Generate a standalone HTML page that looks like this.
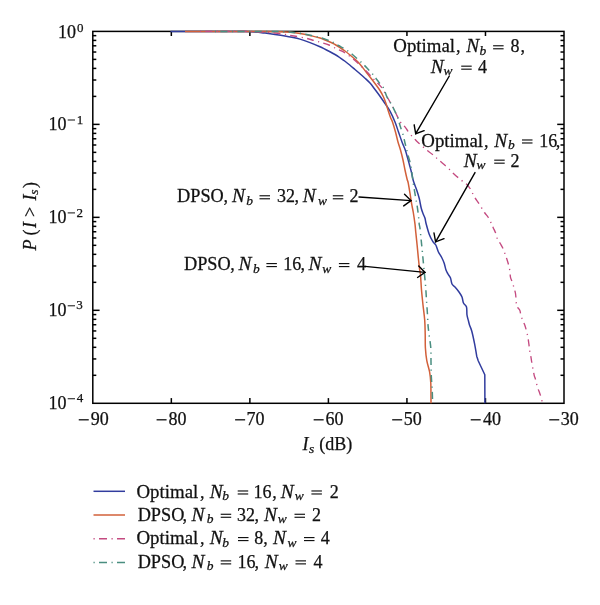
<!DOCTYPE html>
<html><head><meta charset="utf-8"><style>html,body{margin:0;padding:0;background:#fff;}svg{display:block;will-change:transform;}text{font-family:"Liberation Serif",serif;}</style></head>
<body><svg width="600" height="605" viewBox="0 0 600 605">
<rect width="600" height="605" fill="#fff"/>
<g stroke="#000" stroke-width="1.5" fill="none">
<rect x="92.8" y="31.4" width="471.20" height="371.90"/>
<line x1="171.33" y1="403.3" x2="171.33" y2="398.1"/><line x1="171.33" y1="31.4" x2="171.33" y2="36.0"/><line x1="249.87" y1="403.3" x2="249.87" y2="398.1"/><line x1="249.87" y1="31.4" x2="249.87" y2="36.0"/><line x1="328.40" y1="403.3" x2="328.40" y2="398.1"/><line x1="328.40" y1="31.4" x2="328.40" y2="36.0"/><line x1="406.93" y1="403.3" x2="406.93" y2="398.1"/><line x1="406.93" y1="31.4" x2="406.93" y2="36.0"/><line x1="485.47" y1="403.3" x2="485.47" y2="398.1"/><line x1="485.47" y1="31.4" x2="485.47" y2="36.0"/><line x1="92.8" y1="96.39" x2="96.3" y2="96.39"/><line x1="564.0" y1="96.39" x2="560.5" y2="96.39"/><line x1="92.8" y1="80.01" x2="96.3" y2="80.01"/><line x1="564.0" y1="80.01" x2="560.5" y2="80.01"/><line x1="92.8" y1="68.40" x2="96.3" y2="68.40"/><line x1="564.0" y1="68.40" x2="560.5" y2="68.40"/><line x1="92.8" y1="59.39" x2="96.3" y2="59.39"/><line x1="564.0" y1="59.39" x2="560.5" y2="59.39"/><line x1="92.8" y1="52.03" x2="96.3" y2="52.03"/><line x1="564.0" y1="52.03" x2="560.5" y2="52.03"/><line x1="92.8" y1="45.80" x2="96.3" y2="45.80"/><line x1="564.0" y1="45.80" x2="560.5" y2="45.80"/><line x1="92.8" y1="40.41" x2="96.3" y2="40.41"/><line x1="564.0" y1="40.41" x2="560.5" y2="40.41"/><line x1="92.8" y1="35.65" x2="96.3" y2="35.65"/><line x1="564.0" y1="35.65" x2="560.5" y2="35.65"/><line x1="92.8" y1="124.38" x2="99.6" y2="124.38"/><line x1="564.0" y1="124.38" x2="557.2" y2="124.38"/><line x1="92.8" y1="189.36" x2="96.3" y2="189.36"/><line x1="564.0" y1="189.36" x2="560.5" y2="189.36"/><line x1="92.8" y1="172.99" x2="96.3" y2="172.99"/><line x1="564.0" y1="172.99" x2="560.5" y2="172.99"/><line x1="92.8" y1="161.37" x2="96.3" y2="161.37"/><line x1="564.0" y1="161.37" x2="560.5" y2="161.37"/><line x1="92.8" y1="152.36" x2="96.3" y2="152.36"/><line x1="564.0" y1="152.36" x2="560.5" y2="152.36"/><line x1="92.8" y1="145.00" x2="96.3" y2="145.00"/><line x1="564.0" y1="145.00" x2="560.5" y2="145.00"/><line x1="92.8" y1="138.78" x2="96.3" y2="138.78"/><line x1="564.0" y1="138.78" x2="560.5" y2="138.78"/><line x1="92.8" y1="133.39" x2="96.3" y2="133.39"/><line x1="564.0" y1="133.39" x2="560.5" y2="133.39"/><line x1="92.8" y1="128.63" x2="96.3" y2="128.63"/><line x1="564.0" y1="128.63" x2="560.5" y2="128.63"/><line x1="92.8" y1="217.35" x2="99.6" y2="217.35"/><line x1="564.0" y1="217.35" x2="557.2" y2="217.35"/><line x1="92.8" y1="282.34" x2="96.3" y2="282.34"/><line x1="564.0" y1="282.34" x2="560.5" y2="282.34"/><line x1="92.8" y1="265.96" x2="96.3" y2="265.96"/><line x1="564.0" y1="265.96" x2="560.5" y2="265.96"/><line x1="92.8" y1="254.35" x2="96.3" y2="254.35"/><line x1="564.0" y1="254.35" x2="560.5" y2="254.35"/><line x1="92.8" y1="245.34" x2="96.3" y2="245.34"/><line x1="564.0" y1="245.34" x2="560.5" y2="245.34"/><line x1="92.8" y1="237.98" x2="96.3" y2="237.98"/><line x1="564.0" y1="237.98" x2="560.5" y2="237.98"/><line x1="92.8" y1="231.75" x2="96.3" y2="231.75"/><line x1="564.0" y1="231.75" x2="560.5" y2="231.75"/><line x1="92.8" y1="226.36" x2="96.3" y2="226.36"/><line x1="564.0" y1="226.36" x2="560.5" y2="226.36"/><line x1="92.8" y1="221.60" x2="96.3" y2="221.60"/><line x1="564.0" y1="221.60" x2="560.5" y2="221.60"/><line x1="92.8" y1="310.32" x2="99.6" y2="310.32"/><line x1="564.0" y1="310.32" x2="557.2" y2="310.32"/><line x1="92.8" y1="375.31" x2="96.3" y2="375.31"/><line x1="564.0" y1="375.31" x2="560.5" y2="375.31"/><line x1="92.8" y1="358.94" x2="96.3" y2="358.94"/><line x1="564.0" y1="358.94" x2="560.5" y2="358.94"/><line x1="92.8" y1="347.32" x2="96.3" y2="347.32"/><line x1="564.0" y1="347.32" x2="560.5" y2="347.32"/><line x1="92.8" y1="338.31" x2="96.3" y2="338.31"/><line x1="564.0" y1="338.31" x2="560.5" y2="338.31"/><line x1="92.8" y1="330.95" x2="96.3" y2="330.95"/><line x1="564.0" y1="330.95" x2="560.5" y2="330.95"/><line x1="92.8" y1="324.73" x2="96.3" y2="324.73"/><line x1="564.0" y1="324.73" x2="560.5" y2="324.73"/><line x1="92.8" y1="319.34" x2="96.3" y2="319.34"/><line x1="564.0" y1="319.34" x2="560.5" y2="319.34"/><line x1="92.8" y1="314.58" x2="96.3" y2="314.58"/><line x1="564.0" y1="314.58" x2="560.5" y2="314.58"/>
</g>
<g fill="none" stroke-linejoin="round" stroke-linecap="butt">
<path d="M170.50,31.40 C181.25,31.40 222.58,31.38 235.00,31.40 C247.42,31.42 241.67,31.45 245.00,31.55 C248.33,31.65 251.67,31.74 255.00,32.00 C258.33,32.26 261.67,32.70 265.00,33.10 C268.33,33.50 271.67,33.93 275.00,34.40 C278.33,34.87 282.17,35.43 285.00,35.90 C287.83,36.37 289.50,36.67 292.00,37.20 C294.50,37.73 297.00,38.20 300.00,39.10 C303.00,40.00 306.67,41.32 310.00,42.60 C313.33,43.88 316.67,45.27 320.00,46.80 C323.33,48.32 327.50,50.47 330.00,51.75 C332.50,53.03 333.33,53.50 335.00,54.50 C336.67,55.50 338.33,56.62 340.00,57.75 C341.67,58.88 343.33,60.00 345.00,61.25 C346.67,62.50 348.33,63.88 350.00,65.25 C351.67,66.62 353.33,68.08 355.00,69.50 C356.67,70.92 358.33,72.35 360.00,73.80 C361.67,75.25 363.33,76.65 365.00,78.20 C366.67,79.75 368.33,81.22 370.00,83.10 C371.67,84.98 373.33,87.32 375.00,89.50 C376.67,91.68 378.33,93.87 380.00,96.20 C381.67,98.53 383.33,101.00 385.00,103.50 C386.67,106.00 388.33,108.12 390.00,111.20 C391.67,114.28 393.58,118.53 395.00,122.00 C396.42,125.47 397.33,128.67 398.50,132.00 C399.67,135.33 400.88,139.00 402.00,142.00 C403.12,145.00 404.33,147.42 405.25,150.00 C406.17,152.58 406.79,155.00 407.50,157.50 C408.21,160.00 408.83,162.50 409.50,165.00 C410.17,167.50 410.92,170.08 411.50,172.50 C412.08,174.92 412.55,177.70 413.00,179.50 C413.45,181.30 413.58,181.55 414.20,183.30 C414.82,185.05 415.87,187.50 416.70,190.00 C417.53,192.50 418.44,195.25 419.20,198.30 C419.96,201.35 420.57,205.65 421.25,208.30 C421.93,210.95 422.68,212.53 423.30,214.20 C423.93,215.87 424.51,216.63 425.00,218.30 C425.49,219.97 425.55,221.55 426.25,224.20 C426.95,226.85 428.09,231.28 429.20,234.20 C430.31,237.12 431.80,239.90 432.90,241.70 C434.00,243.50 434.90,243.33 435.80,245.00 C436.70,246.67 437.32,249.62 438.30,251.70 C439.28,253.78 440.72,255.57 441.70,257.50 C442.68,259.43 443.48,261.22 444.20,263.30 C444.92,265.38 445.37,268.22 446.00,270.00 C446.63,271.78 447.25,272.67 448.00,274.00 C448.75,275.33 449.83,276.33 450.50,278.00 C451.17,279.67 451.25,282.50 452.00,284.00 C452.75,285.50 453.83,285.67 455.00,287.00 C456.17,288.33 457.83,290.33 459.00,292.00 C460.17,293.67 461.25,295.17 462.00,297.00 C462.75,298.83 462.75,301.33 463.50,303.00 C464.25,304.67 465.92,305.00 466.50,307.00 C467.08,309.00 466.67,312.67 467.00,315.00 C467.33,317.33 468.08,319.33 468.50,321.00 C468.92,322.67 468.95,323.30 469.50,325.00 C470.05,326.70 470.95,328.05 471.80,331.20 C472.65,334.35 473.77,339.68 474.60,343.90 C475.43,348.12 476.43,354.40 476.80,356.50 C477.03,357.20 477.97,360.00 478.20,360.70 C479.30,363.03 483.70,372.37 484.80,374.70 C484.82,379.47 484.88,398.53 484.90,403.30" stroke="#313c9e" stroke-width="1.5"/>
<path d="M185.00,31.40 C198.33,31.41 249.17,31.38 265.00,31.45 C280.83,31.52 275.83,31.66 280.00,31.80 C284.17,31.94 286.67,32.02 290.00,32.30 C293.33,32.58 296.67,32.97 300.00,33.50 C303.33,34.03 306.67,34.75 310.00,35.50 C313.33,36.25 316.67,36.92 320.00,38.00 C323.33,39.08 327.50,40.92 330.00,42.00 C332.50,43.08 333.33,43.58 335.00,44.50 C336.67,45.42 338.33,46.42 340.00,47.50 C341.67,48.58 343.33,49.75 345.00,51.00 C346.67,52.25 348.33,53.62 350.00,55.00 C351.67,56.38 353.33,57.77 355.00,59.30 C356.67,60.83 358.08,62.00 360.00,64.20 C361.92,66.40 364.83,70.37 366.50,72.50 C368.17,74.63 368.58,75.17 370.00,77.00 C371.42,78.83 373.33,81.25 375.00,83.50 C376.67,85.75 378.58,88.25 380.00,90.50 C381.42,92.75 382.50,94.83 383.50,97.00 C384.50,99.17 385.25,101.33 386.00,103.50 C386.75,105.67 387.25,107.67 388.00,110.00 C388.75,112.33 389.75,115.50 390.50,117.50 C391.25,119.50 391.67,119.58 392.50,122.00 C393.33,124.42 394.58,128.67 395.50,132.00 C396.42,135.33 397.17,139.00 398.00,142.00 C398.83,145.00 399.67,147.00 400.50,150.00 C401.33,153.00 402.25,156.67 403.00,160.00 C403.75,163.33 404.32,166.80 405.00,170.00 C405.68,173.20 406.55,176.98 407.10,179.20 C407.65,181.42 407.75,180.53 408.30,183.30 C408.85,186.07 409.83,192.32 410.40,195.80 C410.97,199.28 411.22,201.42 411.70,204.20 C412.18,206.98 412.75,209.17 413.30,212.50 C413.85,215.83 414.58,220.87 415.00,224.20 C415.42,227.53 415.45,229.03 415.80,232.50 C416.15,235.97 416.68,240.83 417.10,245.00 C417.52,249.17 417.88,253.47 418.30,257.50 C418.72,261.53 419.23,266.28 419.60,269.20 C419.97,272.12 420.18,271.53 420.50,275.00 C420.82,278.47 421.08,285.00 421.50,290.00 C421.92,295.00 422.47,300.00 423.00,305.00 C423.53,310.00 424.33,315.17 424.70,320.00 C425.07,324.83 425.08,329.33 425.20,334.00 C425.32,338.67 425.13,343.55 425.40,348.00 C425.67,352.45 426.10,356.72 426.80,360.70 C427.50,364.68 428.93,368.15 429.60,371.90 C430.27,375.65 430.57,377.97 430.80,383.20 C431.03,388.43 430.97,399.95 431.00,403.30" stroke="#d2603a" stroke-width="1.5"/>
<path d="M200.00,31.40 C207.50,31.41 235.83,31.40 245.00,31.45 C254.17,31.50 251.67,31.57 255.00,31.70 C258.33,31.82 261.67,31.97 265.00,32.20 C268.33,32.43 271.67,32.73 275.00,33.10 C278.33,33.47 281.83,33.92 285.00,34.40 C288.17,34.88 290.67,35.40 294.00,36.00 C297.33,36.60 301.67,37.25 305.00,38.00 C308.33,38.75 311.33,39.75 314.00,40.50 C316.67,41.25 318.50,41.75 321.00,42.50 C323.50,43.25 326.50,44.00 329.00,45.00 C331.50,46.00 333.83,47.47 336.00,48.50 C338.17,49.53 340.00,50.12 342.00,51.20 C344.00,52.28 345.83,53.45 348.00,55.00 C350.17,56.55 352.83,58.67 355.00,60.50 C357.17,62.33 358.78,63.87 361.00,66.00 C363.22,68.13 366.13,71.05 368.30,73.30 C370.47,75.55 372.22,77.63 374.00,79.50 C375.78,81.37 377.50,82.83 379.00,84.50 C380.50,86.17 381.50,87.17 383.00,89.50 C384.50,91.83 386.50,95.83 388.00,98.50 C389.50,101.17 390.75,103.17 392.00,105.50 C393.25,107.83 394.17,109.83 395.50,112.50 C396.83,115.17 398.58,119.28 400.00,121.50 C401.42,123.72 402.92,124.55 404.00,125.80 C405.08,127.05 405.50,127.63 406.50,129.00 C407.50,130.37 408.75,132.50 410.00,134.00 C411.25,135.50 412.92,136.83 414.00,138.00 C415.08,139.17 415.33,139.83 416.50,141.00 C417.67,142.17 419.42,143.58 421.00,145.00 C422.58,146.42 424.00,147.87 426.00,149.50 C428.00,151.13 430.78,152.97 433.00,154.80 C435.22,156.63 436.88,158.38 439.30,160.50 C441.72,162.62 444.97,165.17 447.50,167.50 C450.03,169.83 452.17,172.37 454.50,174.50 C456.83,176.63 459.37,178.55 461.50,180.30 C463.63,182.05 465.75,183.43 467.30,185.00 C468.85,186.57 469.63,187.75 470.80,189.70 C471.97,191.65 472.93,194.37 474.30,196.70 C475.67,199.03 477.30,201.07 479.00,203.70 C480.70,206.33 482.95,210.20 484.50,212.50 C486.05,214.80 487.18,215.70 488.30,217.50 C489.43,219.30 490.42,221.57 491.25,223.30 C492.08,225.03 492.61,226.37 493.30,227.90 C493.99,229.43 494.70,230.62 495.40,232.50 C496.10,234.38 496.67,237.32 497.50,239.20 C498.33,241.07 499.50,242.23 500.40,243.75 C501.30,245.27 502.07,246.43 502.90,248.30 C503.73,250.18 504.72,253.13 505.40,255.00 C506.08,256.87 506.47,257.85 507.00,259.50 C507.53,261.15 508.12,262.97 508.60,264.90 C509.08,266.83 509.58,269.03 509.90,271.10 C510.22,273.17 510.08,275.43 510.50,277.30 C510.92,279.17 511.78,280.43 512.40,282.30 C513.02,284.17 513.68,286.63 514.20,288.50 C514.72,290.37 515.18,291.63 515.50,293.50 C515.82,295.37 515.90,297.63 516.10,299.70 C516.30,301.77 516.08,304.15 516.70,305.90 C517.32,307.65 519.08,308.55 519.80,310.20 C520.52,311.85 520.38,313.83 521.00,315.80 C521.62,317.77 522.77,320.13 523.50,322.00 C524.23,323.87 524.72,324.73 525.40,327.00 C526.08,329.27 527.02,332.73 527.60,335.60 C528.18,338.47 528.57,341.77 528.90,344.20 C529.23,346.63 529.27,348.10 529.60,350.20 C529.93,352.30 530.57,354.93 530.90,356.80 C531.23,358.67 531.27,359.42 531.60,361.40 C531.93,363.38 532.47,366.38 532.90,368.70 C533.33,371.02 533.77,373.53 534.20,375.30 C534.63,377.07 534.95,377.30 535.50,379.30 C536.05,381.30 536.83,385.10 537.50,387.30 C538.17,389.50 538.95,390.97 539.50,392.50 C540.05,394.03 540.35,394.95 540.80,396.50 C541.25,398.05 541.90,400.67 542.20,401.80 C542.50,402.93 542.53,403.05 542.60,403.30" stroke="#c44a80" stroke-width="1.35" stroke-dasharray="1.2 4.3 7 4.5"/>
<path d="M215.00,31.40 C224.17,31.41 258.83,31.38 270.00,31.45 C281.17,31.52 278.50,31.66 282.00,31.80 C285.50,31.94 288.00,32.05 291.00,32.30 C294.00,32.55 296.83,32.82 300.00,33.30 C303.17,33.78 306.67,34.50 310.00,35.20 C313.33,35.90 316.67,36.53 320.00,37.50 C323.33,38.47 327.50,40.00 330.00,41.00 C332.50,42.00 333.50,42.71 335.00,43.50 C336.50,44.29 337.50,44.92 339.00,45.75 C340.50,46.58 342.17,47.38 344.00,48.50 C345.83,49.62 347.83,50.83 350.00,52.50 C352.17,54.17 354.78,56.55 357.00,58.50 C359.22,60.45 361.34,62.28 363.30,64.20 C365.26,66.12 367.22,68.37 368.75,70.00 C370.28,71.63 371.29,72.58 372.50,74.00 C373.71,75.42 374.92,77.08 376.00,78.50 C377.08,79.92 377.75,80.92 379.00,82.50 C380.25,84.08 382.17,85.58 383.50,88.00 C384.83,90.42 385.67,94.25 387.00,97.00 C388.33,99.75 390.17,102.08 391.50,104.50 C392.83,106.92 394.00,109.42 395.00,111.50 C396.00,113.58 396.83,115.25 397.50,117.00 C398.17,118.75 398.50,120.33 399.00,122.00 C399.50,123.67 399.83,124.92 400.50,127.00 C401.17,129.08 402.25,131.83 403.00,134.50 C403.75,137.17 404.42,140.58 405.00,143.00 C405.58,145.42 405.92,146.67 406.50,149.00 C407.08,151.33 407.78,154.20 408.50,157.00 C409.22,159.80 410.00,161.42 410.80,165.80 C411.60,170.18 412.47,177.88 413.30,183.30 C414.13,188.72 415.10,194.13 415.80,198.30 C416.50,202.47 417.01,204.97 417.50,208.30 C417.99,211.63 418.47,215.65 418.75,218.30 C419.03,220.95 418.99,222.53 419.20,224.20 C419.41,225.87 419.66,225.53 420.00,228.30 C420.34,231.07 420.83,236.63 421.25,240.80 C421.67,244.97 422.04,248.52 422.50,253.30 C422.96,258.08 423.50,264.22 424.00,269.50 C424.50,274.78 425.08,279.92 425.50,285.00 C425.92,290.08 426.17,295.00 426.50,300.00 C426.83,305.00 427.25,310.83 427.50,315.00 C427.75,319.17 427.75,321.83 428.00,325.00 C428.25,328.17 428.53,330.17 429.00,334.00 C429.47,337.83 430.47,343.33 430.80,348.00 C431.13,352.67 430.92,357.33 431.00,362.00 C431.08,366.67 431.10,371.33 431.30,376.00 C431.50,380.67 431.98,385.45 432.20,390.00 C432.42,394.55 432.53,401.08 432.60,403.30" stroke="#4a8e80" stroke-width="1.5" stroke-dasharray="1.2 4.3 7 4.5"/>
</g>
<g font-family="Liberation Serif" font-size="18" fill="#111" stroke="#111" stroke-width="0.25">
<text transform="translate(393.31,52.4) scale(1.0483,1)">Optimal</text>
<text x="455.95" y="52.4">,</text>
<text transform="translate(466.30,52.4) scale(1.0824,1)" font-style="italic">N</text>
<text x="479.60" y="54.9" font-style="italic" font-size="13.5">b</text>
<text x="510.55" y="52.4">8</text>
<text x="520.55" y="52.4">,</text>
<text transform="translate(430.70,72.8) scale(1.0824,1)" font-style="italic">N</text>
<text x="443.50" y="75.3" font-style="italic" font-size="13.5">w</text>
<text x="477.95" y="72.8">4</text>
<text transform="translate(421.31,146.6) scale(1.0483,1)">Optimal</text>
<text x="483.95" y="146.6">,</text>
<text transform="translate(494.20,146.6) scale(1.0824,1)" font-style="italic">N</text>
<text x="508.00" y="149.1" font-style="italic" font-size="13.5">b</text>
<text x="539.20" y="146.6">16</text>
<text x="555.75" y="146.6">,</text>
<text transform="translate(463.70,166.8) scale(1.0824,1)" font-style="italic">N</text>
<text x="476.50" y="169.3" font-style="italic" font-size="13.5">w</text>
<text x="510.45" y="166.8">2</text>
<text transform="translate(177.09,202.4) scale(1.0145,1)">DPSO</text>
<text x="223.45" y="202.4">,</text>
<text transform="translate(232.00,202.4) scale(1.0824,1)" font-style="italic">N</text>
<text x="246.20" y="204.9" font-style="italic" font-size="13.5">b</text>
<text x="277.00" y="202.4">32</text>
<text x="294.45" y="202.4">,</text>
<text transform="translate(302.70,202.4) scale(1.0824,1)" font-style="italic">N</text>
<text x="318.00" y="204.9" font-style="italic" font-size="13.5">w</text>
<text x="349.45" y="202.4">2</text>
<text transform="translate(183.99,270.2) scale(1.0145,1)">DPSO</text>
<text x="230.35" y="270.2">,</text>
<text transform="translate(238.50,270.2) scale(1.0824,1)" font-style="italic">N</text>
<text x="253.00" y="272.7" font-style="italic" font-size="13.5">b</text>
<text x="283.30" y="270.2">16</text>
<text x="300.55" y="270.2">,</text>
<text transform="translate(308.60,270.2) scale(1.0824,1)" font-style="italic">N</text>
<text x="322.20" y="272.7" font-style="italic" font-size="13.5">w</text>
<text x="356.95" y="270.2">4</text>
<text transform="translate(136.51,497.6) scale(1.0483,1)">Optimal</text>
<text x="199.95" y="497.6">,</text>
<text transform="translate(209.80,497.6) scale(1.0824,1)" font-style="italic">N</text>
<text x="222.20" y="500.1" font-style="italic" font-size="13.5">b</text>
<text x="253.40" y="497.6">16</text>
<text x="272.35" y="497.6">,</text>
<text transform="translate(280.80,497.6) scale(1.0824,1)" font-style="italic">N</text>
<text x="294.80" y="500.1" font-style="italic" font-size="13.5">w</text>
<text x="329.85" y="497.6">2</text>
<text transform="translate(137.69,520.9) scale(1.0145,1)">DPSO</text>
<text x="182.45" y="520.9">,</text>
<text transform="translate(191.50,520.9) scale(1.0824,1)" font-style="italic">N</text>
<text x="206.80" y="523.4" font-style="italic" font-size="13.5">b</text>
<text x="237.00" y="520.9">32</text>
<text x="254.45" y="520.9">,</text>
<text transform="translate(263.90,520.9) scale(1.0824,1)" font-style="italic">N</text>
<text x="277.70" y="523.4" font-style="italic" font-size="13.5">w</text>
<text x="311.95" y="520.9">2</text>
<text transform="translate(136.51,544.2) scale(1.0483,1)">Optimal</text>
<text x="199.95" y="544.2">,</text>
<text transform="translate(209.80,544.2) scale(1.0824,1)" font-style="italic">N</text>
<text x="222.20" y="546.7" font-style="italic" font-size="13.5">b</text>
<text x="254.25" y="544.2">8</text>
<text x="263.25" y="544.2">,</text>
<text transform="translate(273.00,544.2) scale(1.0824,1)" font-style="italic">N</text>
<text x="287.50" y="546.7" font-style="italic" font-size="13.5">w</text>
<text x="320.75" y="544.2">4</text>
<text transform="translate(137.69,567.5) scale(1.0145,1)">DPSO</text>
<text x="182.45" y="567.5">,</text>
<text transform="translate(191.50,567.5) scale(1.0824,1)" font-style="italic">N</text>
<text x="206.80" y="570.0" font-style="italic" font-size="13.5">b</text>
<text x="237.50" y="567.5">16</text>
<text x="254.45" y="567.5">,</text>
<text transform="translate(264.80,567.5) scale(1.0824,1)" font-style="italic">N</text>
<text x="278.70" y="570.0" font-style="italic" font-size="13.5">w</text>
<text x="313.45" y="567.5">4</text>
<text x="58.10" y="37.9">10</text>
<text x="77.00" y="31.7" font-size="13">0</text>
<text x="48.50" y="130.0">10</text>
<text x="76.65" y="123.6" font-size="13">1</text>
<text x="48.50" y="222.9">10</text>
<text x="76.50" y="216.5" font-size="13">2</text>
<text x="48.50" y="315.8">10</text>
<text x="76.25" y="309.40000000000003" font-size="13">3</text>
<text x="48.50" y="408.75">10</text>
<text x="76.75" y="402.35" font-size="13">4</text>
<text x="90.85" y="425.0">90</text>
<text x="168.43" y="425.0">80</text>
<text x="246.47" y="425.0">70</text>
<text x="325.50" y="425.0">60</text>
<text x="403.78" y="425.0">50</text>
<text x="483.07" y="425.0">40</text>
<text x="560.85" y="425.0">30</text>
<text x="302.60" y="450.4" font-style="italic">I</text>
<text x="309.05" y="452.9" font-style="italic" font-size="13.5">s</text>
<text x="319.15" y="450.4">(dB)</text>
<g transform="translate(35.6,251) rotate(-90)"><text x="0.50" y="0" font-style="italic">P</text><text x="15.45" y="0">(</text><text x="23.10" y="0" font-style="italic">I</text><text x="33.90" y="0">&gt;</text><text x="50.50" y="0" font-style="italic">I</text><text x="56.35" y="2.6" font-style="italic" font-size="13.5">s</text><text x="62.90" y="0">)</text></g>
</g>
<g fill="#111"><rect x="493.10" y="45.20" width="10.5" height="1.15"/><rect x="493.10" y="48.20" width="10.5" height="1.15"/><rect x="461.20" y="65.60" width="10.5" height="1.15"/><rect x="461.20" y="68.60" width="10.5" height="1.15"/><rect x="522.00" y="139.40" width="10.5" height="1.15"/><rect x="522.00" y="142.40" width="10.5" height="1.15"/><rect x="494.20" y="159.60" width="10.5" height="1.15"/><rect x="494.20" y="162.60" width="10.5" height="1.15"/><rect x="259.50" y="195.20" width="10.5" height="1.15"/><rect x="259.50" y="198.20" width="10.5" height="1.15"/><rect x="332.80" y="195.20" width="10.5" height="1.15"/><rect x="332.80" y="198.20" width="10.5" height="1.15"/><rect x="266.40" y="263.00" width="10.5" height="1.15"/><rect x="266.40" y="266.00" width="10.5" height="1.15"/><rect x="338.90" y="263.00" width="10.5" height="1.15"/><rect x="338.90" y="266.00" width="10.5" height="1.15"/><rect x="237.70" y="490.40" width="10.5" height="1.15"/><rect x="237.70" y="493.40" width="10.5" height="1.15"/><rect x="311.40" y="490.40" width="10.5" height="1.15"/><rect x="311.40" y="493.40" width="10.5" height="1.15"/><rect x="220.70" y="513.70" width="10.5" height="1.15"/><rect x="220.70" y="516.70" width="10.5" height="1.15"/><rect x="294.50" y="513.70" width="10.5" height="1.15"/><rect x="294.50" y="516.70" width="10.5" height="1.15"/><rect x="238.00" y="537.00" width="10.5" height="1.15"/><rect x="238.00" y="540.00" width="10.5" height="1.15"/><rect x="304.00" y="537.00" width="10.5" height="1.15"/><rect x="304.00" y="540.00" width="10.5" height="1.15"/><rect x="220.70" y="560.30" width="10.5" height="1.15"/><rect x="220.70" y="563.30" width="10.5" height="1.15"/><rect x="295.50" y="560.30" width="10.5" height="1.15"/><rect x="295.50" y="563.30" width="10.5" height="1.15"/><rect x="67.70" y="119.50" width="7.3" height="1.0"/><rect x="67.70" y="212.40" width="7.3" height="1.0"/><rect x="67.70" y="305.30" width="7.3" height="1.0"/><rect x="67.70" y="398.25" width="7.3" height="1.0"/><rect x="78.75" y="419.15" width="10.0" height="1.3"/><rect x="156.58" y="419.15" width="10.0" height="1.3"/><rect x="235.12" y="419.15" width="10.0" height="1.3"/><rect x="313.65" y="419.15" width="10.0" height="1.3"/><rect x="392.18" y="419.15" width="10.0" height="1.3"/><rect x="470.72" y="419.15" width="10.0" height="1.3"/><rect x="549.25" y="419.15" width="10.0" height="1.3"/></g>
<g stroke="#000" stroke-width="1.4" fill="none" stroke-linecap="round" stroke-linejoin="miter">
<line x1="449.3" y1="76" x2="415.7" y2="133.7"/><polyline points="424.17,130.65 415.7,133.7 414.17,124.83"/>
<line x1="475" y1="172.6" x2="435.6" y2="241.8"/><polyline points="444.04,238.67 435.6,241.8 433.98,232.95"/>
<line x1="359" y1="197" x2="411" y2="200.6"/><polyline points="404.52,194.35 411,200.6 403.72,205.90"/>
<line x1="365" y1="266.4" x2="425" y2="272.4"/><polyline points="418.72,265.96 425,272.4 417.56,277.47"/>
</g>
<g fill="none" stroke-width="1.5">
<line x1="93.5" y1="491.3" x2="125" y2="491.3" stroke="#313c9e"/>
<line x1="93.5" y1="515.0" x2="125" y2="515.0" stroke="#d2603a"/>
<line x1="93.5" y1="538.7" x2="125" y2="538.7" stroke="#c44a80" stroke-dasharray="1.2 4.3 8 4.5"/>
<line x1="93.5" y1="562.4" x2="125" y2="562.4" stroke="#4a8e80" stroke-dasharray="1.2 4.3 8 4.5"/>
</g>
</svg></body></html>
